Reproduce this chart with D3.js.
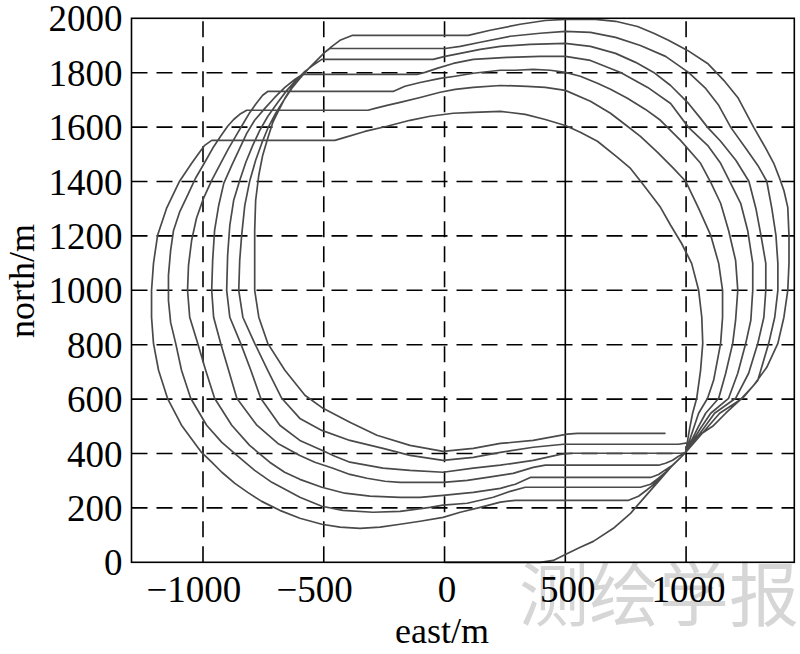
<!DOCTYPE html>
<html>
<head>
<meta charset="utf-8">
<script src="https://cdn.jsdelivr.net/npm/d3@7"></script>
<style>
  html, body { margin: 0; padding: 0; background: #fff; }
  svg { display: block; }
</style>
</head>
<body>
<svg id="chart" width="800" height="654"></svg>
<script>
// ---------------- data (east, north in metres) ----------------
const xTicks = [-1000, -500, 0, 500, 1000];
const yTicks = [0, 200, 400, 600, 800, 1000, 1200, 1400, 1600, 1800, 2000];
const xTickLabels = ["\u22121000", "\u2212500", "0", "500", "1000"];
const yTickLabels = ["0", "200", "400", "600", "800", "1000", "1200", "1400", "1600", "1800", "2000"];

// lap 1: start at origin, run east, turn north, then one full loop
const lap1 = [
  [0,0],[397,0],[450,7],[500,29],[562,55],[616,77],[699,125],[770,180],[824,235],[882,294],[936,349],[978,386],[998,404],
  [1015,493],[1027,548],[1044,603],[1060,706],[1069,805],[1065,901],[1052,1000],[1023,1099],[981,1173],[936,1239],[894,1305],
  [853,1353],[819,1393],[770,1448],[716,1489],[633,1548],[562,1581],[500,1606],[417,1628],[334,1647],[231,1658],[119,1654],
  [36,1651],[-60,1640],[-143,1625],[-238,1603],[-330,1584],[-412,1562],[-454,1551],[-964,1551],
  [-993,1533],[-1018,1503],[-1047,1467],[-1097,1401],[-1151,1301],[-1188,1202],[-1205,1099],[-1213,1000],[-1213,901],
  [-1205,805],[-1184,706],[-1147,603],[-1089,504],[-1006,404],
  [-964,368],[-922,331],[-868,290],[-815,257],[-757,224],[-682,191],[-599,162],[-508,140],[-433,129],[-350,125],[-267,129],
  [-184,140],[-101,151],[-6,165],[65,184],[148,202],[231,221],[293,228],[762,228],[803,243],[836,265],[861,283],[882,301],
  [915,331],[944,357],[978,386],[998,404]
];
const lap2 = [
  [1031,493],[1052,548],[1089,603],[1114,669],[1143,805],[1151,901],[1151,1000],[1135,1099],[1102,1202],[1052,1301],[998,1401],
  [948,1448],[882,1507],[811,1566],[757,1603],[687,1651],[604,1695],[500,1735],[417,1746],[342,1750],[231,1753],[119,1746],
  [44,1739],[-18,1728],[-101,1709],[-184,1691],[-238,1680],[-288,1669],[-317,1662],[-819,1662],
  [-848,1647],[-873,1628],[-898,1603],[-927,1566],[-960,1522],[-993,1470],[-1031,1412],[-1064,1349],[-1097,1287],[-1122,1220],
  [-1134,1147],[-1143,1055],[-1143,963],[-1134,882],[-1113,805],[-1089,706],[-1051,603],[-985,504],[-922,441],[-856,390],
  [-786,338],[-715,294],[-653,265],[-599,239],[-508,206],[-421,191],[-297,184],[-184,187],[-60,202],[-6,210],[94,217],
  [202,239],[272,261],[334,276],[811,276],[853,287],[886,309],[915,331],[944,357],[978,386],[998,404]
];
const lap3 = [
  [1048,493],[1081,548],[1135,603],[1164,695],[1193,805],[1205,890],[1214,1000],[1205,1110],[1176,1220],[1143,1320],[1102,1397],
  [1060,1467],[977,1551],[894,1625],[832,1665],[757,1706],[687,1739],[633,1761],[562,1787],[500,1801],[438,1809],[367,1812],
  [293,1809],[231,1809],[119,1798],[44,1787],[-18,1779],[-101,1764],[-164,1750],[-213,1731],[-732,1731],
  [-753,1717],[-782,1684],[-806,1654],[-831,1617],[-860,1573],[-894,1522],[-927,1467],[-964,1404],[-998,1338],[-1027,1265],
  [-1047,1184],[-1060,1092],[-1064,1000],[-1055,901],[-1022,805],[-989,706],[-952,603],[-881,504],[-807,430],[-724,368],
  [-662,331],[-599,305],[-508,276],[-413,254],[-309,243],[-184,239],[-101,239],[-6,246],[119,257],[231,272],[293,287],
  [355,312],[853,312],[886,323],[911,338],[944,357],[978,386],[998,404]
];
const lap4 = [
  [1060,493],[1102,548],[1176,603],[1214,695],[1247,805],[1268,890],[1276,1000],[1276,1099],[1255,1220],[1226,1320],[1180,1401],
  [1143,1467],[1089,1533],[1010,1599],[936,1687],[841,1746],[729,1801],[604,1845],[500,1860],[396,1860],[259,1856],[119,1849],
  [36,1834],[-31,1816],[-81,1801],[-114,1794],[-587,1794],
  [-620,1775],[-661,1746],[-703,1709],[-744,1669],[-786,1625],[-819,1577],[-848,1522],[-881,1459],[-914,1393],[-935,1312],
  [-952,1220],[-960,1110],[-964,1000],[-956,901],[-927,805],[-894,706],[-860,603],[-777,504],[-690,437],[-599,393],
  [-537,368],[-462,346],[-392,323],[-321,309],[-247,298],[-184,294],[-6,294],[94,301],[177,312],[284,327],[367,349],
  [417,357],[886,357],[915,364],[944,375],[969,390],[998,404]
];
const lap5 = [
  [1073,493],[1118,548],[1205,603],[1259,695],[1297,805],[1322,901],[1330,1000],[1330,1099],[1310,1202],[1289,1301],[1260,1401],
  [1206,1478],[1143,1548],[1089,1599],[1060,1632],[1010,1687],[936,1753],[866,1801],[791,1838],[708,1871],[604,1897],
  [500,1908],[355,1904],[231,1897],[148,1886],[65,1871],[2,1860],[-47,1849],[-508,1849],
  [-545,1827],[-578,1805],[-615,1772],[-653,1735],[-690,1691],[-732,1639],[-765,1588],[-794,1533],[-823,1470],[-848,1404],
  [-873,1331],[-889,1239],[-898,1129],[-902,1000],[-889,901],[-844,805],[-802,706],[-761,603],[-682,504],[-599,448],
  [-508,412],[-454,390],[-392,368],[-255,346],[-143,338],[-6,331],[119,346],[231,357],[367,375],[479,397],[521,401],
  [985,401],[998,404]
];
const lap6 = [
  [1085,493],[1139,548],[1234,603],[1297,669],[1342,805],[1367,901],[1380,1000],[1380,1099],[1372,1202],[1355,1301],[1334,1401],
  [1297,1459],[1247,1522],[1185,1599],[1135,1680],[1081,1742],[1010,1801],[915,1860],[811,1900],[708,1930],[604,1948],
  [500,1952],[396,1945],[272,1934],[148,1912],[65,1897],[2,1889],[-475,1889],
  [-496,1875],[-529,1845],[-566,1812],[-599,1779],[-633,1742],[-666,1698],[-699,1651],[-732,1595],[-757,1540],[-782,1478],
  [-806,1404],[-827,1312],[-840,1202],[-848,1110],[-852,1000],[-835,901],[-786,805],[-732,706],[-674,603],[-599,529],
  [-508,485],[-392,448],[-255,419],[-143,393],[-6,375],[119,386],[231,404],[367,423],[492,434],[969,434]
];
const lap7 = [
  [1010,440],[1060,471],[1110,500],[1164,548],[1226,599],[1280,651],[1334,717],[1380,805],[1405,901],[1421,1000],[1426,1099],
  [1426,1202],[1421,1305],[1405,1367],[1384,1419],[1363,1467],[1330,1522],[1280,1599],[1247,1654],[1214,1709],[1156,1772],
  [1089,1834],[1006,1882],[927,1919],[866,1945],[799,1970],[708,1989],[625,1996],[500,1996],[417,1992],[313,1978],
  [189,1956],[98,1937],[-383,1937],
  [-433,1919],[-466,1897],[-496,1875],[-533,1842],[-566,1812],[-599,1783],[-633,1746],[-661,1706],[-686,1662],[-711,1617],
  [-732,1559],[-753,1496],[-769,1423],[-782,1331],[-786,1220],[-786,1110],[-786,1000],[-769,901],[-732,805],[-661,706],
  [-578,614],[-503,566],[-392,515],[-280,467],[-143,430],[-6,408],[119,419],[231,437],[367,448],[508,471],[550,474],[915,474]
];
const laps = [lap1, lap2, lap3, lap4, lap5, lap6, lap7];

// ---------------- drawing ----------------
const svg = d3.select("#chart");
const pLeft = 131.5, pRight = 794.3, pTop = 18.3, pBottom = 562.3;
const x = d3.scaleLinear().domain([-1296, 1448]).range([pLeft, pRight]);
const y = d3.scaleLinear().domain([0, 2000]).range([pBottom, pTop]);

// watermark (behind everything)
svg.append("text")
  .attr("x", 519).attr("y", 621)
  .attr("font-family", "'Noto Sans CJK SC', sans-serif")
  .attr("font-size", 70)
  .attr("fill", "#d6d6d6")
  .text("测绘学报");

const serif = "'Liberation Serif', 'Times New Roman', serif";

// grid
const gGrid = svg.append("g");
xTicks.forEach(v => {
  gGrid.append("line")
    .attr("x1", x(v)).attr("x2", x(v))
    .attr("y1", pBottom).attr("y2", pTop)
    .attr("stroke", "#000").attr("stroke-width", 1.6)
    .attr("stroke-dasharray", v === 500 ? null : "16,9");
});
yTicks.filter(v => v > 0 && v < 2000).forEach(v => {
  gGrid.append("line")
    .attr("x1", pLeft).attr("x2", pRight)
    .attr("y1", y(v)).attr("y2", y(v))
    .attr("stroke", "#000").attr("stroke-width", 1.6)
    .attr("stroke-dasharray", "16,9");
});

// track
const track = laps.flat();
const line = d3.line().x(d => x(d[0])).y(d => y(d[1])).curve(d3.curveLinear);
svg.append("path")
  .datum(track)
  .attr("d", line)
  .attr("fill", "none")
  .attr("stroke", "#4a4a4a")
  .attr("stroke-width", 1.7)
  .attr("stroke-linejoin", "round");

// frame
svg.append("rect")
  .attr("x", pLeft).attr("y", pTop)
  .attr("width", pRight - pLeft).attr("height", pBottom - pTop)
  .attr("fill", "none").attr("stroke", "#000").attr("stroke-width", 1.6);

// axes (labels only, ticks hidden under grid)
const xAxis = d3.axisBottom(x).tickValues(xTicks).tickSize(0).tickPadding(0)
  .tickFormat((d, i) => xTickLabels[i]);
const gx = svg.append("g").attr("transform", `translate(0,${pBottom})`).call(xAxis);
gx.select(".domain").remove();
gx.selectAll("text")
  .attr("font-family", serif).attr("font-size", 37).attr("fill", "#000")
  .attr("dy", null).attr("y", 40)
  .attr("dx", d => d < 0 ? "-0.26em" : "0.05em");

const yAxis = d3.axisLeft(y).tickValues(yTicks).tickSize(0).tickPadding(0)
  .tickFormat((d, i) => yTickLabels[i]);
const gy = svg.append("g").attr("transform", `translate(${pLeft - 9},0)`).call(yAxis);
gy.select(".domain").remove();
gy.selectAll("text")
  .attr("font-family", serif).attr("font-size", 37).attr("fill", "#000")
  .attr("dy", "0.34em");

// axis titles
svg.append("text")
  .attr("x", 442).attr("y", 643)
  .attr("text-anchor", "middle")
  .attr("font-family", serif).attr("font-size", 36).attr("fill", "#000")
  .text("east/m");
svg.append("text")
  .attr("transform", "translate(34,281) rotate(-90)")
  .attr("text-anchor", "middle")
  .attr("font-family", serif).attr("font-size", 36).attr("fill", "#000")
  .text("north/m");
</script>
</body>
</html>
